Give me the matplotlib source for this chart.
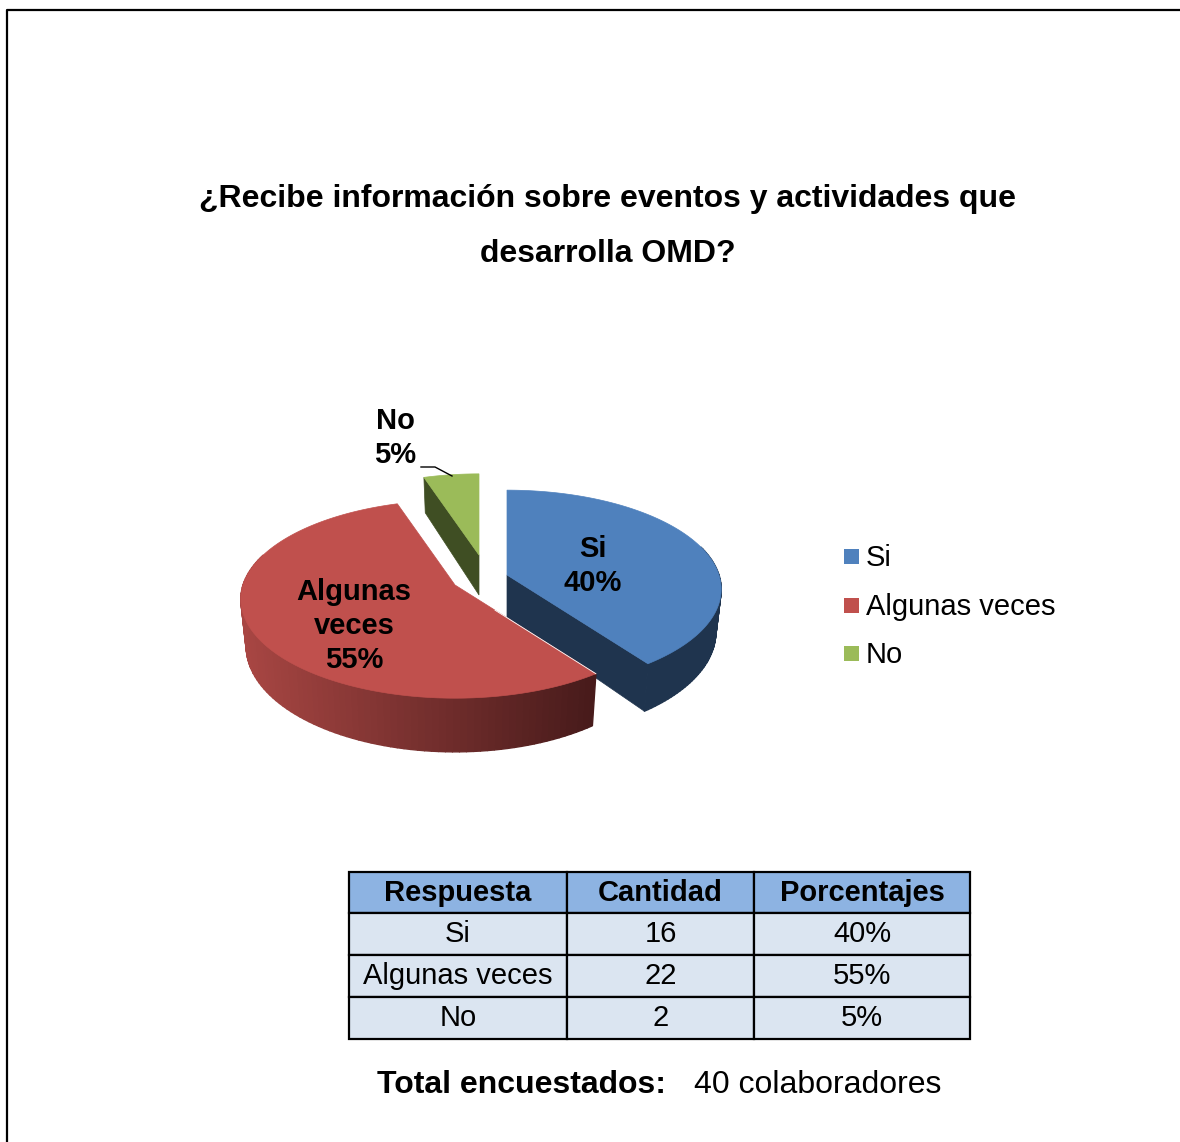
import numpy as np
import matplotlib
matplotlib.use("Agg")
import matplotlib.pyplot as plt
from matplotlib.collections import PolyCollection
from matplotlib.patches import Polygon, Rectangle

plt.rcParams['font.family'] = ['Liberation Sans', 'DejaVu Sans']

TITLE = ["¿Recibe información sobre eventos y actividades que",
         "desarrolla OMD?"]
CATEGORIES = ["Si", "Algunas veces", "No"]
COUNTS = [16, 22, 2]
PERCENTS = [40, 55, 5]
TABLE_HEADER = ["Respuesta", "Cantidad", "Porcentajes"]
TOTAL_LABEL = "Total encuestados:"
TOTAL_VALUE = "40 colaboradores"

TOP_COLORS = ["#4F81BD", "#C0504D", "#9BBB59"]
WALL_COLORS = ["#1F344E", None, "#3F4E23"]

# pie geometry, in pixels
RADIUS_X = 212
RADIUS_Y = 97
PERSPECTIVE = 0.143
ORIGINS = [(507, 575), (455, 585), (479, 555)]
SCALES = [1.0, 1.0, 0.95]
DEPTHS = [42, 46, 40]


def project(theta, origin, scale):
    """Top rim point for an angle measured clockwise from 12 o'clock."""
    u, v = scale * np.sin(theta), scale * np.cos(theta)
    w = 1 + PERSPECTIVE * v
    return origin[0] + RADIUS_X * u / w, origin[1] - RADIUS_Y * v / w


def project_low(theta, origin, scale, depth):
    """Same point on the bottom face of the slice."""
    u, v = scale * np.sin(theta), scale * np.cos(theta)
    w = 1 + PERSPECTIVE * v
    return (origin[0] + 0.975 * RADIUS_X * u / w,
            origin[1] - RADIUS_Y * v / w + depth / w)


def side_color(i, x):
    if i == 1:
        # red rim goes dark towards the right
        t = np.clip((x - 243) / 350, 0, 1)
        return np.array([168, 70, 67]) * (1 - t) + np.array([72, 27, 27]) * t
    if i == 0:
        return np.array([31, 52, 78])
    return np.array([63, 78, 35])


def draw_slice(ax, i, start, end):
    origin, scale, depth = ORIGINS[i], SCALES[i], DEPTHS[i]
    thetas = np.linspace(start, end, 120)
    tx, ty = project(thetas, origin, scale)
    bx, by = project_low(thetas, origin, scale, depth)

    # inner wall on the radial cut that faces the viewer
    if WALL_COLORS[i] is not None:
        cut = start if i == 2 else end
        cx, cy = project(cut, origin, scale)
        dx, dy = project_low(cut, origin, scale, depth)
        ax.add_patch(Polygon([origin, (cx, cy), (dx, dy),
                              (origin[0], origin[1] + depth)],
                             fc=WALL_COLORS[i], ec=WALL_COLORS[i], lw=0.5))

    # outer rim, only where it faces the front
    quads, colors = [], []
    for k in range(len(thetas) - 1):
        if np.cos(thetas[k]) > 0.3:
            continue
        quads.append([(tx[k], ty[k]), (tx[k + 1], ty[k + 1]),
                      (bx[k + 1], by[k + 1]), (bx[k], by[k])])
        colors.append(side_color(i, tx[k]) / 255)
    if quads:
        ax.add_collection(PolyCollection(quads, facecolors=colors,
                                         edgecolors=colors, linewidths=1.0))

    top = [origin] + list(zip(tx, ty))
    ax.add_patch(Polygon(top, fc=TOP_COLORS[i], ec=TOP_COLORS[i], lw=0.5))


fig = plt.figure(figsize=(11.8, 11.42), dpi=100)
ax = fig.add_axes([0, 0, 1, 1])
ax.set_xlim(0, 1180)
ax.set_ylim(1142, 0)
ax.axis('off')

# page frame
ax.plot([7, 7, 1180], [1142, 10, 10], color="black", lw=1.6)

ax.text(607.5, 199, TITLE[0], fontsize=23, fontweight='bold',
        ha='center', va='center')
ax.text(607.5, 254, TITLE[1], fontsize=23, fontweight='bold',
        ha='center', va='center')

# slice angles come from the counts, clockwise from the top
angles = np.cumsum([0] + COUNTS) / sum(COUNTS) * 2 * np.pi
for i in [0, 2, 1]:
    draw_slice(ax, i, angles[i], angles[i + 1])

# thin gap between the red face and the blue wall
rx, ry = project(angles[1], ORIGINS[1], SCALES[1])
slope = (ry - ORIGINS[1][1]) / (rx - ORIGINS[1][0])
ax.plot([ORIGINS[1][0] + 40, rx], [ORIGINS[1][1] + 40 * slope, ry],
        color="white", lw=0.6)

slice_labels = [(593, 566), (354, 626), (395, 438)]
for i, (lx, ly) in enumerate(slice_labels):
    name = CATEGORIES[i].replace(" ", "\n")
    ax.text(lx, ly, f"{name}\n{PERCENTS[i]}%", fontsize=21, fontweight='bold',
            ha='center', va='center', linespacing=1.29)

# leader line for the small slice
ax.plot([421, 435, 452], [467, 467, 476], color="black", lw=1)

# legend
legend_rows = [556, 605, 653]
for i, y in enumerate(legend_rows):
    ax.add_patch(Rectangle((844, y - 7.5), 15, 15, fc=TOP_COLORS[i], ec='none'))
    ax.text(866, y + 2, CATEGORIES[i], fontsize=21, ha='left', va='center')

# table under the pie
col_x = [349, 567, 754, 970]
row_y = [872, 913, 955, 997, 1039]
rows = [TABLE_HEADER] + [[CATEGORIES[i], str(COUNTS[i]), f"{PERCENTS[i]}%"]
                         for i in range(len(CATEGORIES))]
for r, row in enumerate(rows):
    for c, cell in enumerate(row):
        x0, x1 = col_x[c], col_x[c + 1]
        y0, y1 = row_y[r], row_y[r + 1]
        ax.add_patch(Rectangle((x0, y0), x1 - x0, y1 - y0,
                               fc="#8DB3E2" if r == 0 else "#DBE5F1",
                               ec="black", lw=1.6))
        ax.text((x0 + x1) / 2, (y0 + y1) / 2 + 0.5, cell,
                fontsize=21, fontweight='bold' if r == 0 else 'normal',
                ha='center', va='center')

ax.text(377, 1085, TOTAL_LABEL, fontsize=23, fontweight='bold',
        ha='left', va='center')
ax.text(694, 1085, TOTAL_VALUE, fontsize=23, ha='left', va='center')

fig.savefig("out.png", dpi=100)
